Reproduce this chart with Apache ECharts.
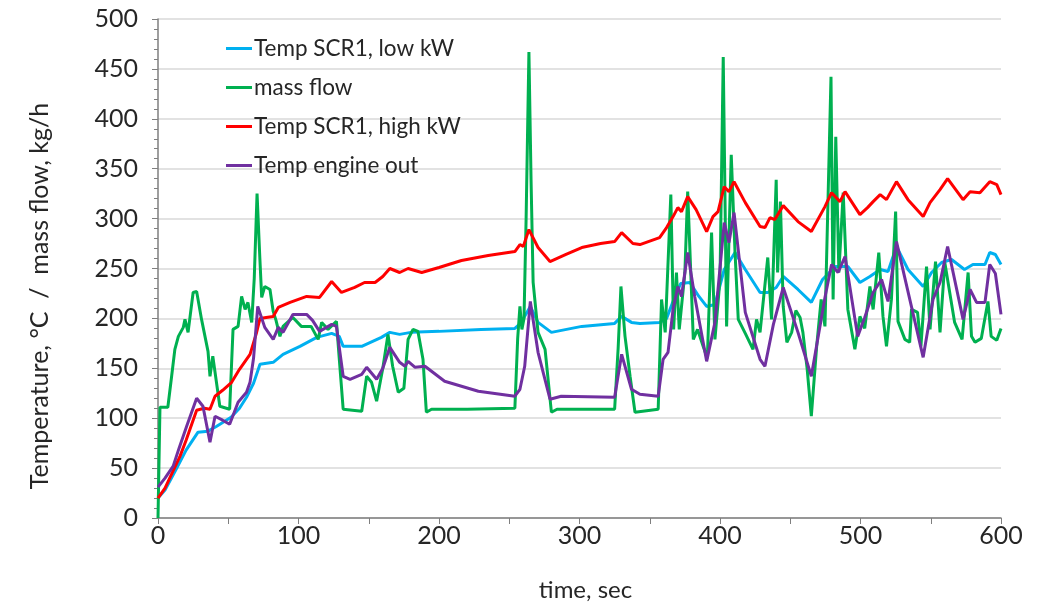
<!DOCTYPE html>
<html>
<head>
<meta charset="utf-8">
<script src="https://cdn.jsdelivr.net/npm/echarts@6/dist/echarts.min.js"></script>
<style>
  html, body { margin: 0; padding: 0; background: #fff; }
  #chart { width: 1046px; height: 607px; }
</style>
</head>
<body>
<div id="chart"></div>
<script>
// series names (legend order)
var seriesNames = ['Temp SCR1, low kW', 'mass flow', 'Temp SCR1, high kW', 'Temp engine out']
var seriesColors = ['#00b0f0', '#00b050', '#ff0000', '#7030a0']

// [time sec, value]
var lowKw = [[0,20],[5,28],[13,49],[20,68],[28.5,86],[35.6,87],[41.8,92],[52,101],[58,110],[63,121],[68,135],[72.6,154],[82,156],[89,164],[101,172],[113,181],[123.6,185],[129,182],[131.8,172],[145,172],[159,181],[165,186],[172,184],[180,186],[200,187],[230,189],[254,190],[258,195],[265,212],[270.5,196],[280,186],[301.6,192],[325,195],[330,202],[337,196],[343,195],[357,196],[362,200],[366,215],[372,235],[378.6,236],[385,222],[390.5,212],[396.4,214],[403,249],[410.7,266],[418,249],[428.5,226],[434,226],[440,231],[445,242],[455.5,229],[465,216],[473,239],[482,252],[491,252],[499.6,236],[506.7,242],[514,249],[519.6,247],[525.6,272],[533.8,249],[544.6,232],[550.6,246],[557.7,256],[564.8,259],[574,249],[580,254],[588.6,254],[592,266],[596,264],[600,254]]

var massFlow = [[0,0],[1.4,111],[7,111],[9.7,142],[12,169],[14.5,182],[18,191],[19.2,199],[21.4,186],[25,226],[27.5,227],[31,199],[35.6,167],[37,142],[39,162],[44,112],[51,109],[53.4,189],[57,192],[59.5,222],[62,209],[64,216],[66.7,196],[68.5,240],[70.5,325],[72.5,260],[73.8,221],[76,232],[79.7,229],[82,207],[84,198],[86.8,182],[89,192],[96,201],[102,192],[109,192],[114,179],[116.5,196],[121,189],[127,197],[129,160],[131.8,109],[145,107],[148.5,142],[152,136],[155.6,117],[160,150],[163.7,184],[167,152],[171,126],[175,130],[178,179],[181.5,189],[185,187],[188.6,159],[191,106],[194.7,109],[220,109],[254,110],[256,180],[257.6,212],[259,189],[260.5,200],[262,300],[264,467],[265.5,340],[267,236],[270.5,186],[275.5,169],[280,106],[284,109],[325,109],[327.5,170],[329.5,232],[332.4,182],[336,142],[339.5,106],[356,109],[358.4,219],[361,186],[365,324],[367,189],[369,246],[371,189],[375,246],[377,327],[381,179],[384,189],[388,172],[391,160],[394,286],[396.4,179],[400,239],[402.3,462],[404.7,192],[408,364],[410.7,266],[413,199],[418,185],[423.5,169],[426,199],[428.5,186],[434,261],[436.7,199],[440,339],[441,246],[443,317],[445,212],[447.6,176],[451,186],[454,208],[457,201],[459,186],[462,150],[465,102],[468.8,172],[472,219],[474.7,192],[479,442],[480.5,219],[482.4,382],[484.6,246],[487.7,326],[491,209],[496,169],[499.6,202],[503,190],[506.7,232],[509,209],[513,266],[516,202],[518.5,172],[522,219],[525,307],[526.7,197],[531.6,179],[535,176],[536.3,209],[540.6,206],[543,172],[547,252],[549.5,189],[553.4,257],[556.6,186],[560,256],[567,196],[572.3,179],[576.6,246],[579,182],[581.5,176],[586,180],[590.7,217],[593,182],[597,178],[600,190]]

var highKw = [[0,20],[5,30],[10,45],[15.7,62],[20,78],[27.5,108],[33,110],[37,109],[40.6,122],[46,128],[52.4,136],[58,149],[65.5,164],[70,185],[72.6,200],[77,201],[82,202],[85.6,211],[94,216],[105.8,222],[115,221],[123.6,237],[130.6,226],[140,231],[147,236],[154.5,236],[160,242],[165,250],[172,246],[178,250],[187.7,246],[200,251],[216,258],[235,263],[254,267],[257.6,274],[260,272],[264,289],[270.5,271],[279,257],[290,264],[301.6,271],[315,275],[325,277],[330,286],[338,275],[343,274],[357,281],[362,291],[366.6,302],[370,311],[372.6,307],[377,322],[383,309],[390.5,287],[395,302],[398.6,307],[403,332],[406.4,327],[410,337],[418,316],[428.5,292],[432,291],[435.6,301],[439,299],[445,313],[455.5,297],[465,287],[474.7,312],[479.4,326],[485.4,317],[489,327],[499.6,304],[505,311],[509,317],[514,324],[518.5,319],[525.6,337],[533.8,319],[544.6,302],[549.5,316],[556.6,329],[562,340],[573,319],[578,327],[585,326],[592,337],[597,334],[600,324]]

var engineOut = [[0,31],[5,40],[10.8,52],[15,70],[20.4,92],[27.5,120],[32,112],[37,76],[40.6,102],[46,98],[51,94],[57,116],[63,126],[65.5,136],[68,160],[71,212],[76,191],[82,179],[85.6,191],[89,186],[96,204],[105.8,204],[110,198],[115,187],[123.6,194],[127,192],[131.8,142],[136.7,139],[145,144],[148.5,151],[155.6,139],[160,150],[165,171],[172,156],[175.8,152],[178,157],[183,151],[190,152],[204,137],[228,127],[254,122],[257.6,129],[261,152],[265,217],[270.5,166],[279,119],[287,122],[325,121],[330,164],[337,129],[343,124],[356,122],[359.5,159],[363,166],[366.6,209],[370,232],[372.6,222],[377,266],[382,222],[390.5,157],[396.4,196],[403,296],[406.4,276],[410,306],[418,206],[428.5,159],[432,152],[438,194],[445,231],[455.5,186],[465,142],[474.7,221],[479.4,254],[484,246],[489,262],[498,182],[503,201],[509,226],[515,239],[519.6,217],[525.6,277],[544.6,161],[551.6,219],[556.6,236],[562,272],[573,199],[578,229],[582.6,216],[588.6,216],[592,254],[596,245],[600,204]]

var seriesData = [lowKw, massFlow, highKw, engineOut]

var fontName = 'Lato'
var textColor = '#262626'

var myChart = echarts.init(document.getElementById('chart'))

var series = []
seriesNames.forEach(function (name, index) {
  series.push({
    name: name,
    type: 'line',
    data: seriesData[index],
    showSymbol: false,
    symbol: 'none',
    lineStyle: { color: seriesColors[index], width: 3 },
    itemStyle: { color: seriesColors[index] }
  })
})

myChart.setOption({
  animation: false,
  grid: { left: 158, right: 45, top: 19, bottom: 88 },
  // y axis title sits a bit lower than the plot centre in the original
  graphic: [{
    type: 'text',
    x: 40,
    y: 296,
    rotation: Math.PI / 2,
    style: {
      text: 'Temperature, °C  /  mass flow, kg/h',
      fontFamily: fontName,
      fontSize: 25,
      fill: textColor,
      align: 'center',
      verticalAlign: 'middle'
    }
  }],
  legend: {
    data: seriesNames,
    orient: 'vertical',
    left: 221,
    top: 32,
    icon: 'rect',
    itemWidth: 26,
    itemHeight: 3,
    itemGap: 16,
    textStyle: { fontFamily: fontName, fontSize: 22.5, color: textColor, padding: [0, 0, 0, -3] }
  },
  xAxis: {
    type: 'value',
    min: 0,
    max: 600,
    interval: 50,
    name: 'time, sec',
    nameLocation: 'middle',
    nameGap: 60,
    nameTextStyle: { fontFamily: fontName, fontSize: 24, color: textColor, padding: [0, 0, 0, 12] },
    axisLine: { show: true, lineStyle: { color: '#7f7f7f', width: 1.5 } },
    axisTick: { show: true, length: 6, lineStyle: { color: '#7f7f7f' } },
    axisLabel: {
      fontFamily: fontName, fontSize: 25, color: textColor, margin: 5,
      formatter: function (v) { return v % 100 === 0 ? v : '' }
    },
    splitLine: { show: false }
  },
  yAxis: {
    type: 'value',
    min: 0,
    max: 500,
    interval: 50,
    axisLine: { show: true, lineStyle: { color: '#7f7f7f', width: 1.5 } },
    axisTick: { show: true, length: 6, lineStyle: { color: '#7f7f7f' } },
    minorTick: { show: true, splitNumber: 5, length: 4, lineStyle: { color: '#7f7f7f' } },
    axisLabel: { fontFamily: fontName, fontSize: 25, color: textColor, margin: 20 },
    splitLine: { show: true, lineStyle: { color: '#d9d9d9', width: 1.5 } }
  },
  series: series
})
</script>
</body>
</html>
